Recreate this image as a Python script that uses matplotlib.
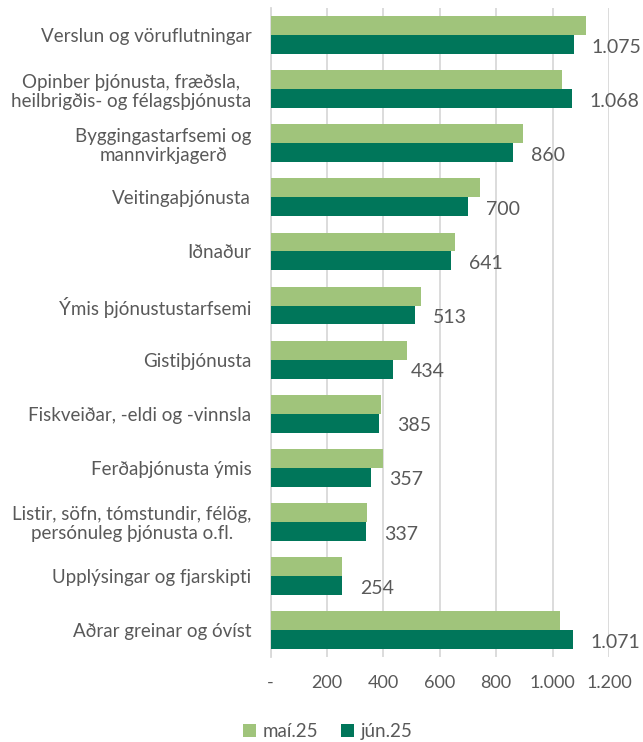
import matplotlib
matplotlib.use("Agg")
import matplotlib.pyplot as plt
import numpy as np

categories = [
    "Verslun og vöruflutningar",
    "Opinber þjónusta, fræðsla,\nheilbrigðis- og félagsþjónusta",
    "Byggingastarfsemi og\nmannvirkjagerð",
    "Veitingaþjónusta",
    "Iðnaður",
    "Ýmis þjónustustarfsemi",
    "Gistiþjónusta",
    "Fiskveiðar, -eldi og -vinnsla",
    "Ferðaþjónusta ýmis",
    "Listir, söfn, tómstundir, félög,\npersónuleg þjónusta o.fl.",
    "Upplýsingar og fjarskipti",
    "Aðrar greinar og óvíst",
]
mai25 = [1120, 1035, 894, 742, 654, 535, 483, 391, 399, 343, 252, 1025]
jun25 = [1075, 1068, 860, 700, 641, 513, 434, 385, 357, 337, 254, 1071]
series_names = ["maí.25", "jún.25"]
xticks = [0, 200, 400, 600, 800, 1000, 1200]
xticklabels = ["-", "200", "400", "600", "800", "1.000", "1.200"]

LIGHT = "#A0C47B"
DARK = "#00765A"
TXT = "#595959"
GRID = "#D9D9D9"

plt.rcParams['font.family'] = ['Lato', 'DejaVu Sans']

fig = plt.figure(figsize=(6.43, 7.42), dpi=100)
ax = fig.add_axes([0.421, 0.1146, 0.526, 0.8744])

y = np.arange(len(categories))
h = 0.35
ax.barh(y - h/2, mai25, height=h, color=LIGHT, label=series_names[0], zorder=3)
ax.barh(y + h/2, jun25, height=h, color=DARK, label=series_names[1], zorder=3)

def fmt(v):
    return f"{v:,}".replace(",", ".")

for yi, v in zip(y, jun25):
    ax.annotate(fmt(v), xy=(v, yi + h/2), xytext=(13, -2), textcoords="offset points",
                ha="left", va="center", fontsize=14, color=TXT, annotation_clip=False)

ax.set_ylim(len(categories) - 0.5, -0.5)
ax.set_xlim(0, 1200)
ax.set_yticks(y)
ax.set_yticklabels(categories, fontsize=13.5, color=TXT, multialignment="center",
                   linespacing=1.15)
ax.set_xticks(xticks)
ax.set_xticklabels(xticklabels, fontsize=13, color=TXT)
ax.tick_params(axis="y", length=0, pad=14)
ax.tick_params(axis="x", length=0, pad=13)
for s in ["top", "right", "bottom"]:
    ax.spines[s].set_visible(False)
ax.spines["left"].set_color(GRID)
ax.spines["left"].set_linewidth(1.3)
ax.xaxis.grid(True, color=GRID, linewidth=1.3, zorder=0)
ax.set_axisbelow(True)

leg = fig.legend(loc="center", bbox_to_anchor=(0.51, 0.014), ncol=2, frameon=False,
                 fontsize=13.5, handlelength=0.7, handleheight=0.7, handletextpad=0.35,
                 columnspacing=1.2)
for t in leg.get_texts():
    t.set_color(TXT)

fig.savefig("out.png", dpi=100)
